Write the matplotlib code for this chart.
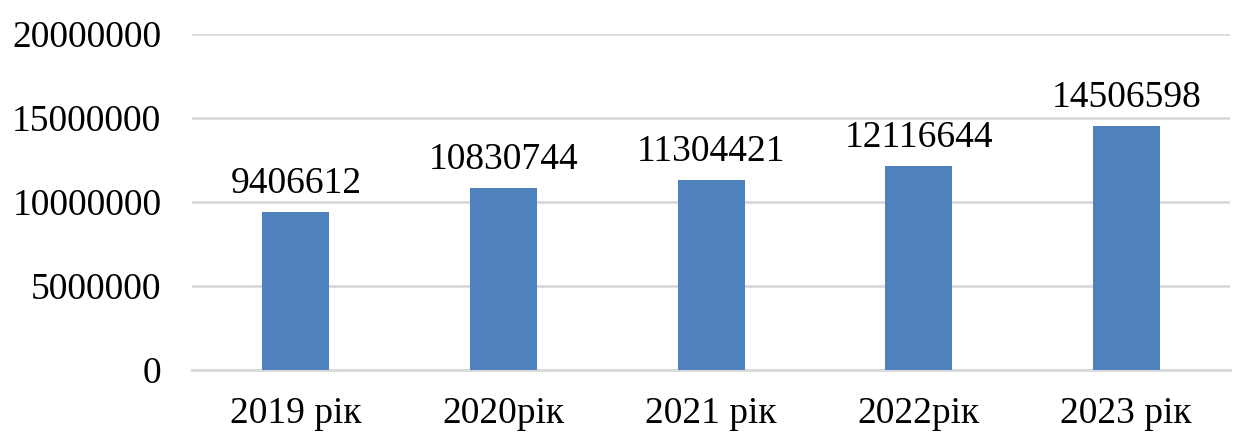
import matplotlib.pyplot as plt

years = ["2019 рік", "2020рік", "2021 рік", "2022рік", "2023 рік"]
values = [9406612, 10830744, 11304421, 12116644, 14506598]

plt.rcParams["font.family"] = ["Liberation Serif", "DejaVu Serif"]

fig = plt.figure(figsize=(12.34, 4.32), dpi=100)
ax = fig.add_axes([0.1556, 0.1435, 0.8412, 0.778])

x = range(len(years))
ax.bar(x, values, width=0.323, color="#4F81BD", zorder=3)

for xi, v in zip(x, values):
    ax.annotate(str(v), (xi, v), xytext=(0, 8), textcoords="offset points",
                ha="center", va="bottom", fontsize=27)

ax.set_xlim(-0.5, len(years) - 0.5)
ax.set_ylim(0, 20000000)
ax.set_yticks(range(0, 20000001, 5000000))
ax.set_yticklabels([str(t) for t in range(0, 20000001, 5000000)])
ax.set_xticks(list(x))
ax.set_xticklabels(years)

ax.yaxis.grid(True, color="#D9D9D9", linewidth=2, zorder=0)
for s in ["top", "right", "left"]:
    ax.spines[s].set_visible(False)
ax.spines["bottom"].set_color("#D9D9D9")
ax.spines["bottom"].set_linewidth(2)
ax.tick_params(axis="both", length=0, labelsize=27)
ax.tick_params(axis="y", pad=22)
ax.tick_params(axis="x", pad=19)

fig.savefig("out.png", dpi=100)
